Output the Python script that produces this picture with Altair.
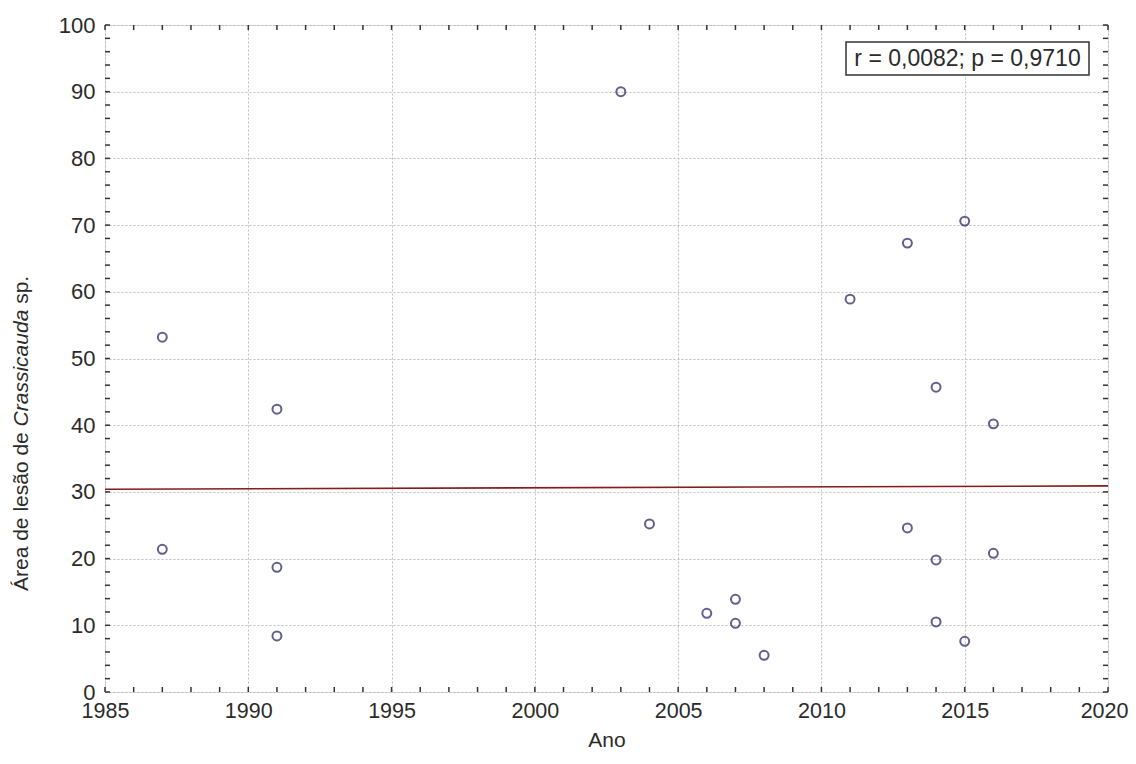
import altair as alt
import pandas as pd

# ---- data ----
years = [1987, 1987, 1991, 1991, 1991, 2003, 2004, 2006, 2007, 2007, 2008,
         2011, 2013, 2013, 2014, 2014, 2014, 2015, 2015, 2016, 2016]
area = [53.2, 21.4, 42.4, 18.7, 8.4, 90.0, 25.2, 11.8, 13.9, 10.3, 5.5,
        58.9, 67.3, 24.6, 45.7, 19.8, 10.5, 70.6, 7.6, 40.2, 20.8]
fit_x = [1985, 2020]
fit_y = [30.4, 30.9]
x_major = [1985, 1990, 1995, 2000, 2005, 2010, 2015, 2020]
y_major = [0, 10, 20, 30, 40, 50, 60, 70, 80, 90, 100]
x_minor = list(range(1985, 2021))
y_minor = list(range(0, 101, 2))
stat_text = ["r = 0,0082; p = 0,9710"]
x_title = "Ano"
y_title_parts = ["Área de lesão de ", "Crassicauda", "sp."]

W, H = 1003, 667
FONT = "Liberation Sans"
TXT = "#2b2b2b"
FS_LAB = 21.5
FS_TITLE = 21

xscale = alt.Scale(domain=[1985, 2020], nice=False, zero=False)
yscale = alt.Scale(domain=[0, 100], nice=False, zero=True)

last_label = "datum.value == 2020"
x_axis = alt.Axis(values=x_major, format="d", grid=True, gridColor="#bdbdbd",
                  gridDash=[2, 2], gridWidth=1, domain=False, ticks=False,
                  labelFont=FONT, labelFontSize=FS_LAB, labelColor=TXT,
                  labelPadding=8, labelFlush=False,
                  labelAlign={"condition": {"test": last_label, "value": "right"}, "value": "center"},
                  labelOffset={"condition": {"test": last_label, "value": 20}, "value": 0},
                  title=x_title,
                  titleFont=FONT, titleFontSize=FS_TITLE, titleFontWeight="normal",
                  titleColor=TXT, titlePadding=8)
y_axis = alt.Axis(values=y_major, grid=True, gridColor="#bdbdbd",
                  gridDash=[2, 2], gridWidth=1, domain=False, ticks=False,
                  labelFont=FONT, labelFontSize=22, labelColor=TXT,
                  labelPadding=10, labelFlush=False, title=None)

X = alt.X("Ano:Q", scale=xscale, axis=x_axis)
Y = alt.Y("Area:Q", scale=yscale, axis=y_axis)

pts_df = pd.DataFrame({"Ano": years, "Area": area})
fit_df = pd.DataFrame({"Ano": fit_x, "Area": fit_y})
xt_df = pd.DataFrame({"Ano": x_minor})
yt_df = pd.DataFrame({"Area": y_minor})
box_df = pd.DataFrame({"t": stat_text})

points = alt.Chart(pts_df).mark_point(
    shape="circle", filled=False, color="#1e1e5e", size=80, strokeWidth=2
).encode(x=X, y=Y)

fit = alt.Chart(fit_df).mark_line(color="#861c1c", strokeWidth=1.6).encode(x=X, y=Y)

TL = 5
tick_style = dict(color="#333333", strokeWidth=1.5)
bottom_ticks = alt.Chart(xt_df).mark_rule(**tick_style).encode(
    x=X, y=alt.value(H), y2=alt.value(H - TL))
top_ticks = alt.Chart(xt_df).mark_rule(**tick_style).encode(
    x=X, y=alt.value(0), y2=alt.value(TL))
left_ticks = alt.Chart(yt_df).mark_rule(**tick_style).encode(
    y=Y, x=alt.value(0), x2=alt.value(TL))
right_ticks = alt.Chart(yt_df).mark_rule(**tick_style).encode(
    y=Y, x=alt.value(W), x2=alt.value(W - TL))

box = alt.Chart(box_df).mark_rect(fill="white", stroke="#333333", strokeWidth=1.5).encode(
    x=alt.value(741), x2=alt.value(984), y=alt.value(17), y2=alt.value(50))
box_text = alt.Chart(box_df).mark_text(
    font=FONT, fontSize=23, color=TXT, align="center", baseline="middle"
).encode(x=alt.value(862.5), y=alt.value(34), text="t:N")

# y title with italic genus name
em1, em2, em_sp = 7.838, 5.557, 0.278
y0 = 566
s1 = y0
s2 = y0 - em1 * FS_TITLE
s3 = s2 - (em2 + em_sp) * FS_TITLE
title_layers = []
for part, ypos, style in [(y_title_parts[0], s1, "normal"),
                          (y_title_parts[1], s2, "italic"),
                          (y_title_parts[2], s3, "normal")]:
    title_layers.append(
        alt.Chart(box_df).mark_text(
            font=FONT, fontSize=FS_TITLE, fontStyle=style, color=TXT,
            angle=270, align="left", baseline="middle"
        ).encode(x=alt.value(-83), y=alt.value(ypos), text=alt.value(part))
    )

chart = alt.layer(
    fit, points, bottom_ticks, top_ticks, left_ticks, right_ticks, box, box_text,
    *title_layers
).properties(
    width=W, height=H,
    autosize=alt.AutoSizeParams(type="none"),
    padding={"left": 97, "top": 17, "right": 20, "bottom": 60},
).configure_view(stroke="#333333", strokeWidth=2).configure(background="white")

chart.save("out.html", embed_options={"renderer": "svg", "actions": False})
